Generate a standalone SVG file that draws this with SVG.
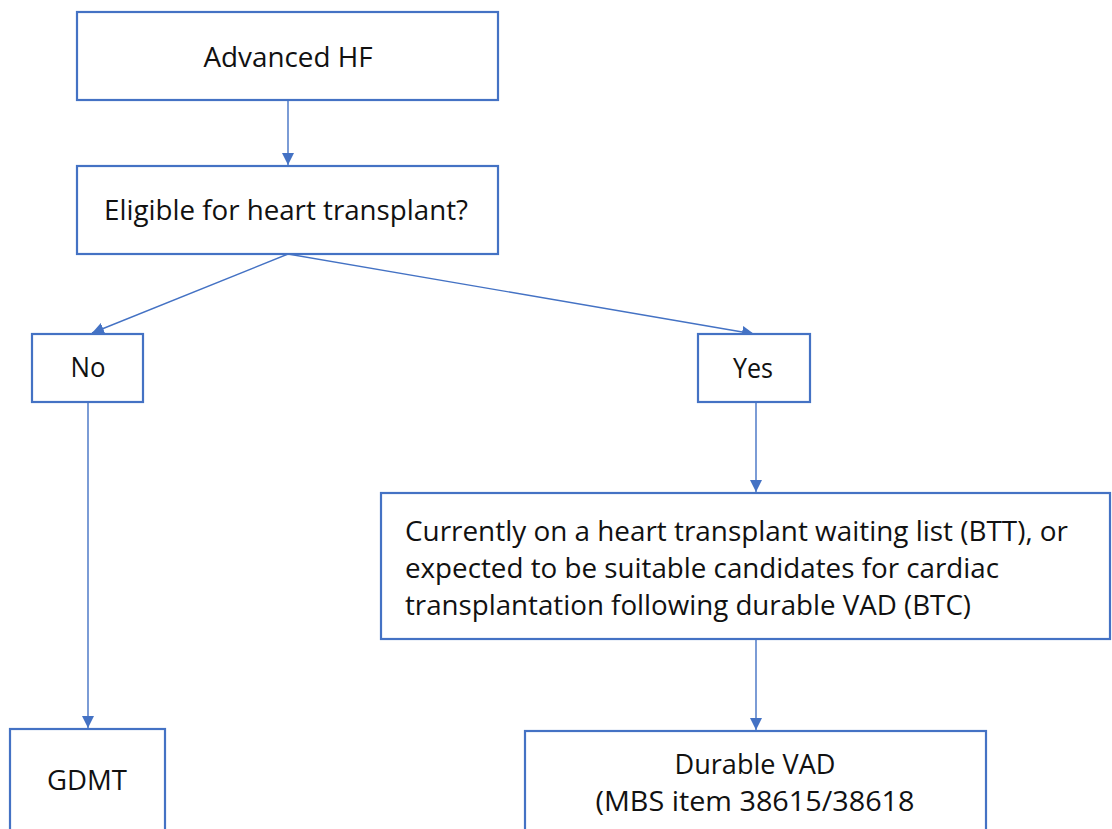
<svg xmlns="http://www.w3.org/2000/svg" width="1112" height="829" viewBox="0 0 1112 829">
<defs>
<style>
.box{fill:#fff;stroke:#4472C4;stroke-width:2.2}
.t{font-family:"Open Sans","Noto Sans","Liberation Sans",sans-serif;font-size:27px;fill:#111}
.c{stroke:#4472C4;stroke-width:1.4;fill:none}
</style>
<marker id="ah" viewBox="0 0 10 10" refX="10" refY="5" markerWidth="12" markerHeight="12" markerUnits="userSpaceOnUse" orient="auto">
<path d="M0,0 L10,5 L0,10 z" fill="#4472C4"/>
</marker>
</defs>
<rect width="1112" height="829" fill="#fff"/>
<g id="connectors">
<line class="c" x1="288" y1="100" x2="288" y2="165" marker-end="url(#ah)"/>
<line class="c" x1="288" y1="254" x2="92" y2="333" marker-end="url(#ah)"/>
<line class="c" x1="288" y1="254" x2="754" y2="334" marker-end="url(#ah)"/>
<line class="c" x1="88" y1="402" x2="88" y2="728" marker-end="url(#ah)"/>
<line class="c" x1="756" y1="402" x2="756" y2="492" marker-end="url(#ah)"/>
<line class="c" x1="756" y1="639" x2="756" y2="730" marker-end="url(#ah)"/>
</g>
<g id="advanced-hf">
<rect class="box" x="77" y="12" width="421" height="88"/>
<text class="t" x="288" y="67" text-anchor="middle" textLength="169" lengthAdjust="spacingAndGlyphs">Advanced HF</text>
</g>
<g id="eligible">
<rect class="box" x="77" y="166" width="421" height="88"/>
<text class="t" x="286" y="220" text-anchor="middle" textLength="364" lengthAdjust="spacingAndGlyphs">Eligible for heart transplant?</text>
</g>
<g id="no">
<rect class="box" x="32" y="334" width="111" height="68"/>
<text class="t" x="88" y="377" text-anchor="middle" textLength="35" lengthAdjust="spacingAndGlyphs">No</text>
</g>
<g id="yes">
<rect class="box" x="698" y="334" width="112" height="68"/>
<text class="t" x="753" y="378" text-anchor="middle" textLength="40" lengthAdjust="spacingAndGlyphs">Yes</text>
</g>
<g id="criteria">
<rect class="box" x="381" y="493" width="729" height="146"/>
<text class="t" x="405" y="541" textLength="663" lengthAdjust="spacingAndGlyphs">Currently on a heart transplant waiting list (BTT), or</text>
<text class="t" x="405" y="578" textLength="594" lengthAdjust="spacingAndGlyphs">expected to be suitable candidates for cardiac</text>
<text class="t" x="405" y="615" textLength="566" lengthAdjust="spacingAndGlyphs">transplantation following durable VAD (BTC)</text>
</g>
<g id="gdmt">
<rect class="box" x="10" y="729" width="155" height="110"/>
<text class="t" x="87" y="790" text-anchor="middle" textLength="80" lengthAdjust="spacingAndGlyphs">GDMT</text>
</g>
<g id="durable-vad">
<rect class="box" x="525" y="731" width="461" height="110"/>
<text class="t" x="755" y="774" text-anchor="middle" textLength="161" lengthAdjust="spacingAndGlyphs">Durable VAD</text>
<text class="t" x="755" y="811" text-anchor="middle" textLength="319" lengthAdjust="spacingAndGlyphs">(MBS item 38615/38618</text>
</g>
</svg>
